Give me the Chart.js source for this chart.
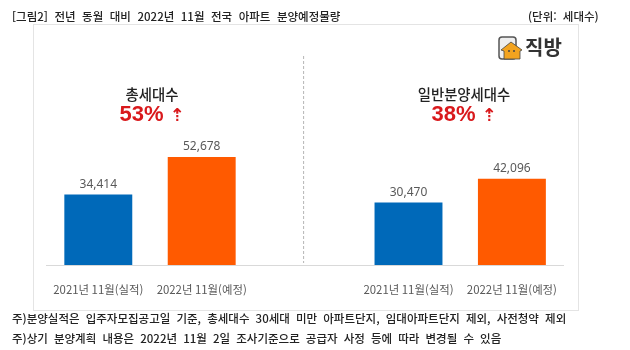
<!DOCTYPE html>
<html lang="ko">
<head>
  <meta charset="UTF-8">
  <title>전년 동월 대비 2022년 11월 전국 아파트 분양예정물량</title>
  <style>
    html, body { margin: 0; padding: 0; background: #fff; }
    body {
      position: relative;
      width: 630px;
      height: 350px;
      overflow: hidden;
      font-family: "Noto Sans CJK KR", "Noto Sans", sans-serif;
      color: #222;
    }
    #frame {
      position: absolute;
      left: 33px;
      top: 24px;
      width: 544px;
      height: 285px;
      border: 1px solid #e4e4e4;
      box-sizing: content-box;
    }
    canvas { position: absolute; left: 0; top: 0; }
    .line { position: absolute; white-space: nowrap; font-size: 11.5px; line-height: 14px; font-weight: 500; word-spacing: 2.9px; }
    .head { position: absolute; text-align: center; white-space: nowrap; transform: translateX(-50%); }
    .head b { display: block; font-size: 14.4px; line-height: 16px; font-weight: 500; color: #222; }
    .head i { display: block; font-style: normal; font-family: "Liberation Sans", sans-serif; font-weight: 700; font-size: 22px; line-height: 24px; color: #d9191c; }
    .head i span { font-family: "DejaVu Sans", sans-serif; font-weight: 700; font-size: 18px; margin-left: 6px; }
    #logo { position: absolute; left: 498px; top: 36px; }
    #logoText { position: absolute; left: 525px; top: 34px; font-size: 20px; line-height: 26px; font-weight: 700; color: #333; }
  </style>
</head>
<body>
  <div id="frame"></div>
  <canvas id="chart" width="630" height="350"></canvas>

  <div class="line" style="left:12px;top:9px;word-spacing:3.3px" id="title">[그림2] 전년 동월 대비 2022년 11월 전국 아파트 분양예정물량</div>
  <div class="line" style="left:528px;top:9px">(단위: 세대수)</div>

  <svg id="logo" width="25" height="25" viewBox="0 0 25 25">
    <rect x="1" y="1" width="17" height="22" rx="3" fill="#eee" stroke="#555" stroke-width="1.5"/>
    <path d="M3 14 L13 6 L24 14 L22 15 L22 23 L6 23 L6 15 Z" fill="#f2a31f" stroke="#444" stroke-width="0.8"/>
    <circle cx="11" cy="15" r="1" fill="#444"/>
    <circle cx="16" cy="15" r="1" fill="#444"/>
  </svg>
  <div id="logoText">직방</div>

  <div class="head" style="left:152px;top:86px"><b>총세대수</b><i>53%<span>⇡</span></i></div>
  <div class="head" style="left:464px;top:86px"><b>일반분양세대수</b><i>38%<span>⇡</span></i></div>

  <div class="line" style="left:12px;top:311px">주)분양실적은 입주자모집공고일 기준, 총세대수 30세대 미만 아파트단지, 임대아파트단지 제외, 사전청약 제외</div>
  <div class="line" style="left:12px;top:331px">주)상기 분양계획 내용은 2022년 11월 2일 조사기준으로 공급자 사정 등에 따라 변경될 수 있음</div>

  <script src="https://cdn.jsdelivr.net/npm/chart.js@4.4.9/dist/chart.umd.min.js"></script>
  <script>
    const categories = ['2021년 11월(실적)', '2022년 11월(예정)', '', '2021년 11월(실적)', '2022년 11월(예정)']
    const values = [34414, 52678, null, 30470, 42096]
    const barColors = ['#0069b9', '#ff5a00', '#ffffff', '#0069b9', '#ff5a00']

    // value labels above the bars + dashed divider in the empty slot
    const annotate = {
      id: 'annotate',
      afterDatasetsDraw(chart) {
        const { ctx, chartArea } = chart
        const meta = chart.getDatasetMeta(0)
        ctx.save()
        ctx.font = '12px "Noto Sans", sans-serif'
        ctx.fillStyle = '#595959'
        ctx.textAlign = 'center'
        ctx.textBaseline = 'bottom'
        values.forEach((v, i) => {
          if (v === null) return
          const bar = meta.data[i]
          ctx.fillText(v.toLocaleString('en-US'), bar.x, bar.y - 4)
        })
        const x = chart.scales.x.getPixelForValue(2) - 2
        ctx.strokeStyle = '#b5b5b5'
        ctx.setLineDash([3, 2])
        ctx.beginPath()
        ctx.moveTo(x + 0.5, chartArea.top - 4)
        ctx.lineTo(x + 0.5, chartArea.bottom - 2)
        ctx.stroke()
        ctx.restore()
      }
    }

    new Chart(document.getElementById('chart'), {
      type: 'bar',
      data: {
        labels: categories,
        datasets: [{
          data: values,
          backgroundColor: barColors,
          barPercentage: 0.657,
          categoryPercentage: 1
        }]
      },
      options: {
        responsive: false,
        animation: false,
        layout: { padding: { left: 46.6, right: 66.4, top: 60, bottom: 0 } },
        plugins: { legend: { display: false }, tooltip: { enabled: false } },
        scales: {
          x: {
            grid: { display: false },
            border: { color: '#d9d9d9' },
            afterFit(scale) { scale.height = 85 },
            ticks: {
              color: '#595959',
              font: { size: 11.4, family: '"Noto Sans CJK KR", sans-serif' },
              padding: 10,
              maxRotation: 0,
              autoSkip: false
            }
          },
          y: { display: false, min: 0, max: 100000 }
        }
      },
      plugins: [annotate]
    })
  </script>
</body>
</html>
